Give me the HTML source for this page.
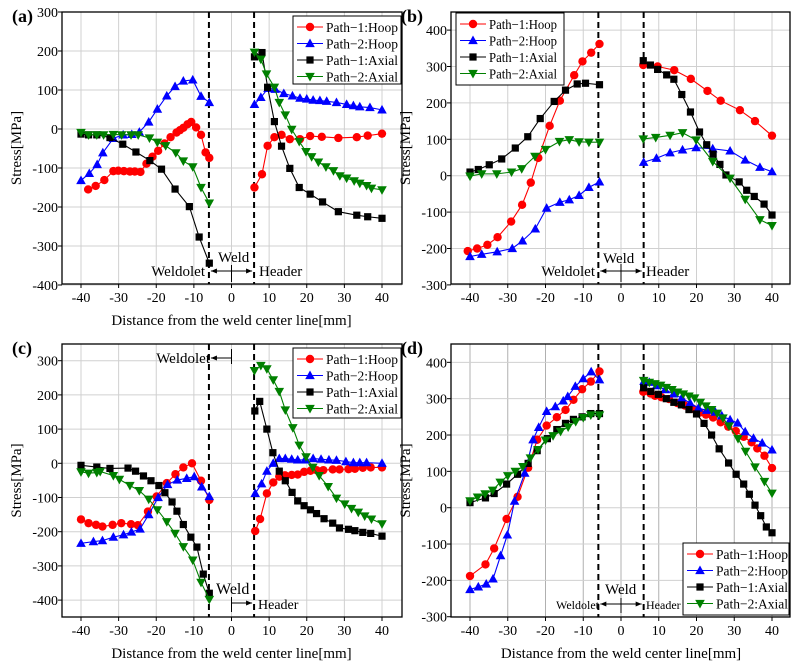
<!DOCTYPE html>
<html><head><meta charset="utf-8"><style>
html,body{margin:0;padding:0;background:#fff}
svg{display:block;font-family:"Liberation Serif",serif}
</style></head><body>
<svg id="fig" width="797" height="665" viewBox="0 0 797 665" xmlns="http://www.w3.org/2000/svg"></svg>
<script>
// ---------- categories / ticks ----------
const xTicks=[-40,-30,-20,-10,0,10,20,30,40];
const yTicksA=[-400,-300,-200,-100,0,100,200,300];
const yTicksB=[-300,-200,-100,0,100,200,300,400];
const yTicksC=[-400,-300,-200,-100,0,100,200,300];
const yTicksD=[-300,-200,-100,0,100,200,300,400];
const seriesNames=["Path\u22121:Hoop","Path\u22122:Hoop","Path\u22121:Axial","Path\u22122:Axial"];
// ---------- panel (a) ----------
const a_h1_x=[-38.1,-36.1,-33.8,-31.4,-30.1,-28.6,-27,-25.7,-24.2,-22.6,-21,-19.5,-17.8,-16.2,-14.6,-13.7,-12.8,-11.7,-10.7,-9.4,-8.1,-6.9,-5.9,6.1,8.1,9.6,11.4,13.3,15.5,18.2,20.9,24,28.4,33.3,36.2,40];
const a_h1_y=[-155,-146,-131,-108,-107,-108,-109,-109,-110,-89,-71,-56,-37,-21,-9,-3,3,12,18,4,-15,-60,-74,-150,-116,-43,-21,-15,-26,-26,-18,-20,-23,-21,-17,-12];
const a_h2_x=[-40,-37.8,-35.7,-34.2,-31.4,-28.8,-26.5,-24.5,-22,-19.7,-17.2,-15,-12.8,-10.3,-8.1,-5.9,6.1,7.8,9.7,11.6,13.9,16.2,18.2,20,21.7,23.5,25.3,27.9,30.6,32.4,34.1,36.8,40];
const a_h2_y=[-132,-114,-91,-61,-24,-15,-14,-8,18,51,85,109,123,126,84,68,63,81,104,102,91,85,79,77,74,73,71,68,63,60,57,55,49];
const a_a1_x=[-40,-38,-35.8,-32.3,-28.9,-25.4,-21.7,-18.6,-15,-11.2,-8.6,-5.9,6.1,8.1,9.6,11.4,13.3,15.5,18,20.9,24.2,28.4,33.3,36.2,40];
const a_a1_y=[-13,-15,-15,-22,-39,-59,-81,-103,-154,-199,-277,-344,185,196,107,19,-44,-101,-150,-167,-187,-212,-221,-225,-229];
const a_a2_x=[-40,-38,-35.8,-34,-31.4,-29.2,-26.7,-24.8,-21.8,-19.7,-17.5,-14.8,-12.8,-10.3,-8.1,-5.9,6.1,7.8,9.3,11.4,12.7,14.3,16,18,19.8,21.3,23.1,25.1,27.1,28.8,30.6,32.6,34.1,35.9,37.2,40];
const a_a2_y=[-9,-15,-15,-15,-14,-15,-15,-15,-23,-34,-43,-61,-82,-97,-150,-190,197,179,141,107,68,36,-1,-32,-58,-71,-85,-97,-107,-120,-126,-133,-139,-145,-152,-156];
// ---------- panel (b) ----------
const b_h1_x=[-40.6,-38.1,-35.4,-32.7,-29.1,-26.2,-23.9,-21.9,-18.9,-16.2,-12.4,-10.2,-7.9,-5.7,5.9,9.7,14.1,18.5,22.9,26.4,31.5,35.5,40];
const b_h1_y=[-207,-200,-190,-169,-126,-80,-19,49,137,206,276,314,338,362,304,300,290,266,233,206,180,150,110];
const b_h2_x=[-40,-36.9,-32.8,-28.8,-26.1,-22.7,-19.7,-16.2,-13.7,-11.1,-8.5,-5.7,6,9.4,13,16.3,19.9,24.3,28.9,32.9,36.8,40];
const b_h2_y=[-222,-216,-209,-200,-179,-146,-89,-73,-66,-54,-32,-17,37,48,63,71,77,74,68,43,23,11];
const b_a1_x=[-40,-37.8,-34.9,-31.6,-28,-24.7,-21.4,-17.7,-14.7,-11.6,-9.4,-5.7,5.9,7.8,9.7,12.1,14,16.1,18.4,20.8,22.7,24.4,26.2,27.8,31.3,33.3,35.3,37.9,40];
const b_a1_y=[10,17,30,46,76,107,157,204,235,252,254,250,316,304,292,277,265,223,175,120,85,59,31,2,-17,-40,-57,-78,-108];
const b_a2_x=[-40,-36.9,-32.9,-29,-26.3,-22.8,-20,-16.3,-13.7,-11.1,-8.5,-5.7,5.9,9.2,13,16.3,19.9,24.3,28.9,32.9,36.8,40];
const b_a2_y=[-1,5,5,10,19,53,72,94,99,93,92,92,101,105,111,118,98,39,-7,-65,-121,-137];
// ---------- panel (c) ----------
const c_h1_x=[-40,-38,-36,-34.3,-31.6,-29.3,-26.7,-24.9,-22.2,-19.9,-17.2,-14.9,-12.8,-10.5,-8.1,-5.9,6.3,7.6,9.4,11.1,12.7,14.2,16,17.6,19.3,21,22.6,24.4,26.9,28.7,31.1,32.8,34.9,37,40];
const c_h1_y=[-164,-175,-180,-185,-180,-175,-178,-181,-141,-97,-58,-32,-12,0,-51,-107,-198,-163,-88,-56,-39,-35,-34,-33,-25,-22,-20,-20,-18,-18,-17,-16,-13,-12,-12];
const c_h2_x=[-40,-36.7,-34.3,-31.4,-28.7,-26.6,-24.3,-22,-19.5,-17,-14.4,-11.9,-9.9,-7.9,-5.9,6.3,8,9.4,11.1,12.7,14.3,16,17.6,19.5,21.7,23.8,25.9,27.9,30.4,32.4,34.1,35.9,40];
const c_h2_y=[-234,-229,-226,-216,-209,-201,-192,-150,-100,-62,-49,-44,-39,-69,-97,-88,-60,-23,0,14,14,12,10,10,14,12,10,9,5,2,2,2,0];
const c_a1_x=[-40,-35.8,-32.3,-27.5,-25.5,-23.4,-21.4,-19.3,-17.7,-15.8,-14.5,-12.8,-10.8,-9.2,-7.5,-5.9,6.2,7.5,9.4,11,12.7,14.3,16.1,17.6,19.3,21,22.6,24.6,26.9,28.7,31.1,32.8,34.9,37,40];
const c_a1_y=[-6,-11,-15,-14,-23,-37,-51,-65,-86,-113,-140,-179,-216,-245,-324,-380,153,181,100,31,-23,-51,-85,-110,-124,-136,-147,-162,-175,-189,-193,-197,-202,-205,-213];
const c_a2_x=[-40,-38,-35.8,-34.9,-31.4,-29.8,-27,-24.5,-22,-19.7,-17.2,-15,-12.8,-10.3,-8.1,-5.9,6.1,7.8,9.4,11.1,12.7,14.3,16.3,18,19.8,21.6,23.3,25.7,27.9,30.1,31.9,33.7,35.4,37.2,40];
const c_a2_y=[-25,-29,-27,-24,-36,-47,-65,-80,-105,-136,-171,-205,-244,-283,-348,-398,271,286,276,244,210,156,104,53,19,-12,-36,-68,-102,-119,-132,-143,-154,-163,-177];
// ---------- panel (d) ----------
const d_h1_x=[-40,-35.9,-33.6,-30.3,-27.4,-24.6,-22.2,-19.7,-17,-14.7,-12.6,-10.3,-8,-5.7,5.9,7.8,9,10.7,12.7,14.9,16.9,19.1,20.9,22.5,24.4,26.4,28.4,30.4,32.5,34.6,36.1,38,40];
const d_h1_y=[-188,-156,-112,-31,30,110,187,226,249,269,297,326,347,375,319,314,308,304,299,288,281,272,262,256,248,235,223,211,195,180,163,143,109];
const d_h2_x=[-40,-37.8,-35.7,-33.9,-31.9,-30.1,-28.2,-25.5,-23.3,-21.8,-19.7,-17.4,-15.3,-14.1,-12.1,-10,-7.9,-5.7,6.1,7.5,9.4,11.7,13.9,16.1,18.3,20.5,22.7,25,26.7,28.9,30.9,32.9,35.1,37.4,40];
const d_h2_y=[-225,-218,-210,-196,-132,-75,18,95,187,221,265,278,294,306,334,355,374,352,348,345,336,325,313,302,288,274,268,263,253,242,233,209,191,178,159];
const d_a1_x=[-40,-35.9,-33.6,-30.3,-27.4,-24.6,-22.2,-19.5,-17,-14.7,-12.6,-10.3,-8,-5.7,6,7.9,9.9,12,14,16,18,20,22,24,26,28.5,30.5,32.5,34,35.5,37,38.5,40];
const d_a1_y=[14,27,39,65,92,122,157,190,215,232,243,250,259,259,330,320,312,300,290,283,270,258,232,200,162,123,92,65,37,7,-22,-53,-69];
const d_a2_x=[-40,-38,-36,-34,-32,-30,-28,-26,-24,-22,-20,-18,-16,-14,-12,-10,-8,-5.7,6,7.5,9,10.5,12,13.5,15,16.5,18,19.5,21,22.5,24,25.5,27,28.6,31,33,35.5,38,40];
const d_a2_y=[19,29,38,48,70,88,100,113,137,160,186,198,210,222,237,248,255,255,350,345,341,337,331,325,318,313,307,302,290,280,270,260,247,225,190,155,112,72,40];

const NS="http://www.w3.org/2000/svg";
const svg=document.getElementById('fig');
const colors=["#ff0000","#0000ff","#000000","#008000"];
const markers=["circle","tri-up","square","tri-down"];
function el(tag,attrs,parent){const e=document.createElementNS(NS,tag);for(const k in attrs)e.setAttribute(k,attrs[k]);(parent||svg).appendChild(e);return e;}
function marker(g,type,x,y,c,name){
  let m;
  if(type==="circle") m=el('circle',{cx:x,cy:y,r:4.2,fill:c},g);
  else if(type==="square") m=el('rect',{x:x-3.6,y:y-3.6,width:7.2,height:7.2,fill:c},g);
  else if(type==="tri-up") m=el('polygon',{points:`${x},${y-5} ${x-4.8},${y+3.6} ${x+4.8},${y+3.6}`,fill:c},g);
  else m=el('polygon',{points:`${x},${y+5} ${x-4.8},${y-3.6} ${x+4.8},${y-3.6}`,fill:c},g);
  
  
}
function panel(P){
  const g=el('g',{});
  
  
  const sx=v=>P.x0+(v-(-40))*(P.x40-P.x0)/80;
  const sy=v=>P.yz-(v*P.ys);
  xTicks.forEach(t=>{const gl=el('line',{x1:sx(t),x2:sx(t),y1:P.top,y2:P.bot,stroke:P.gc,'stroke-width':1},g);
    });
  P.yt.forEach(t=>{const gl=el('line',{x1:P.left,x2:P.right,y1:sy(t),y2:sy(t),stroke:'#d0d0d0','stroke-width':1},g);
    });
  const fr=el('rect',{x:P.left,y:P.top,width:P.right-P.left,height:P.bot-P.top,fill:'none',stroke:'#000','stroke-width':1.3},g);
  
  xTicks.forEach(t=>{el('line',{x1:sx(t),x2:sx(t),y1:P.bot,y2:P.bot+4,stroke:'#000'},g);
    const tx=el('text',{x:sx(t),y:P.bot+18,'font-size':14,'text-anchor':'middle'},g);tx.textContent=t;
    });
  P.yt.forEach(t=>{el('line',{x1:P.left-4,x2:P.left,y1:sy(t),y2:sy(t),stroke:'#000'},g);
    const tx=el('text',{x:P.left-4,y:sy(t)+5,'font-size':14,'text-anchor':'end'},g);tx.textContent=t;
    });
  if(P.showX){const xt=el('text',{x:sx(0),y:P.bot+41,'font-size':15,'text-anchor':'middle'},g);
    xt.textContent='Distance from the weld center line[mm]';
    }
  const yc=(P.top+P.bot)/2;
  const yt=el('text',{x:P.ylx,y:yc,'font-size':15,'text-anchor':'middle',transform:`rotate(-90 ${P.ylx} ${yc})`},g);
  yt.textContent='Stress[MPa]';
  
  const pl=el('text',{x:P.left-50,y:P.top+10,'font-size':18,'font-weight':'bold'},g);
  pl.textContent='('+P.id+')';
  
  [-6,6].forEach(v=>{const d=el('line',{x1:sx(v),x2:sx(v),y1:P.top,y2:P.bot,stroke:'#000','stroke-width':2,'stroke-dasharray':'6,4'},g);
    });
  P.notes(g,sx,sy);
  P.series.forEach((s,i)=>{
    const sg=el('g',{},g);
    
    
    let seg=[],segs=[];
    s[0].forEach((xv,k)=>{if(k>0&&Math.sign(xv)!==Math.sign(s[0][k-1])){segs.push(seg);seg=[];}seg.push([sx(xv),sy(s[1][k])]);});
    segs.push(seg);
    segs.forEach(sp=>{const p=el('polyline',{points:sp.map(q=>q.join(',')).join(' '),fill:'none',stroke:colors[i],'stroke-width':1.1},sg);
      });
    s[0].forEach((xv,k)=>marker(sg,markers[i],sx(xv),sy(s[1][k]),colors[i],'data-point'));
  });
  const L=P.leg;const lg=el('g',{},g);
  
  el('rect',{x:L.x,y:L.y,width:L.w,height:L.h,fill:'#fff',stroke:'#000','stroke-width':1},lg);
  seriesNames.forEach((n,i)=>{const yy=L.y+11+i*16.5;
    const eg=el('g',{},lg);
    
    el('line',{x1:L.x+4,x2:L.x+30,y1:yy,y2:yy,stroke:colors[i],'stroke-width':1.1},eg);
    marker(eg,markers[i],L.x+17,yy,colors[i],'legend-marker');
    const t=el('text',{x:L.x+33,y:yy+5,'font-size':14,textLength:L.tl,lengthAdjust:'spacingAndGlyphs'},eg);t.textContent=n;});
}
function txt(g,x,y,s,size,anchor,name){const t=el('text',{x:x,y:y,'font-size':size,'text-anchor':anchor||'start'},g);t.textContent=s;
  return t;}
function arrow(g,x1,x2,y){el('line',{x1:x1,x2:x2,y1:y,y2:y,stroke:'#000','stroke-width':1},g);
  const d=x2>x1?1:-1;el('polygon',{points:`${x2},${y} ${x2-6*d},${y-2.5} ${x2-6*d},${y+2.5}`,fill:'#000'},g);}

panel({id:'a',left:62,right:402,top:12,bot:284,x0:81,x40:382,yz:129,ys:0.39,yt:yTicksA,ylx:21,showX:true,gc:'#d0d0d0',
  series:[[a_h1_x,a_h1_y],[a_h2_x,a_h2_y],[a_a1_x,a_a1_y],[a_a2_x,a_a2_y]],
  leg:{x:293,y:16,w:108,h:68,tl:72},
  notes:(g,sx,sy)=>{txt(g,218,262,'Weld',15,'start','weld-label');txt(g,205,276,'Weldolet',15,'end','weldolet-label');txt(g,259,276,'Header',15,'start','header-label');
    arrow(g,sx(0),sx(-6)+2,271);arrow(g,sx(0),sx(6)-2,271);el('line',{x1:sx(0),x2:sx(0),y1:265,y2:282,stroke:'#000'},g);}});
panel({id:'b',left:451,right:790,top:12,bot:284,x0:470,x40:772,yz:175.7,ys:0.364,yt:yTicksB,ylx:410,showX:false,gc:'#d0d0d0',
  series:[[b_h1_x,b_h1_y],[b_h2_x,b_h2_y],[b_a1_x,b_a1_y],[b_a2_x,b_a2_y]],
  leg:{x:456,y:13,w:108,h:72,tl:68},
  notes:(g,sx,sy)=>{txt(g,603,263,'Weld',15,'start','weld-label');txt(g,595,276,'Weldolet',15,'end','weldolet-label');txt(g,646,276,'Header',15,'start','header-label');
    arrow(g,sx(0),sx(-6)+2,271);arrow(g,sx(0),sx(6)-2,271);el('line',{x1:sx(0),x2:sx(0),y1:264,y2:282,stroke:'#000'},g);}});
panel({id:'c',left:62,right:402,top:344,bot:617,x0:81,x40:382,yz:463.3,ys:0.342,yt:yTicksC,ylx:21,showX:true,gc:'#d0d0d0',
  series:[[c_h1_x,c_h1_y],[c_h2_x,c_h2_y],[c_a1_x,c_a1_y],[c_a2_x,c_a2_y]],
  leg:{x:293,y:348,w:108,h:70,tl:72},
  notes:(g,sx,sy)=>{txt(g,210,363,'Weldolet',15,'end','weldolet-label');arrow(g,sx(0),sx(-6)+2,358);el('line',{x1:sx(0),x2:sx(0),y1:349,y2:364,stroke:'#000'},g);
    txt(g,216,594,'Weld',16,'start','weld-label');txt(g,258,609,'Header',14,'start','header-label');arrow(g,sx(0),sx(6)-2,603);el('line',{x1:sx(0),x2:sx(0),y1:597,y2:612,stroke:'#000'},g);}});
panel({id:'d',left:451,right:790,top:344,bot:617,x0:470,x40:772,yz:507.7,ys:0.3634,yt:yTicksD,ylx:410,showX:true,gc:'#b0b0b0',
  series:[[d_h1_x,d_h1_y],[d_h2_x,d_h2_y],[d_a1_x,d_a1_y],[d_a2_x,d_a2_y]],
  leg:{x:683,y:543,w:106,h:72,tl:72},
  notes:(g,sx,sy)=>{txt(g,605,594,'Weld',15,'start','weld-label');txt(g,599,609,'Weldolet',12,'end','weldolet-label');txt(g,646,609,'Header',12,'start','header-label');
    arrow(g,sx(0),sx(-6)+2,604);arrow(g,sx(0),sx(6)-2,604);el('line',{x1:sx(0),x2:sx(0),y1:598,y2:613,stroke:'#000'},g);}});
</script>
</body></html>
